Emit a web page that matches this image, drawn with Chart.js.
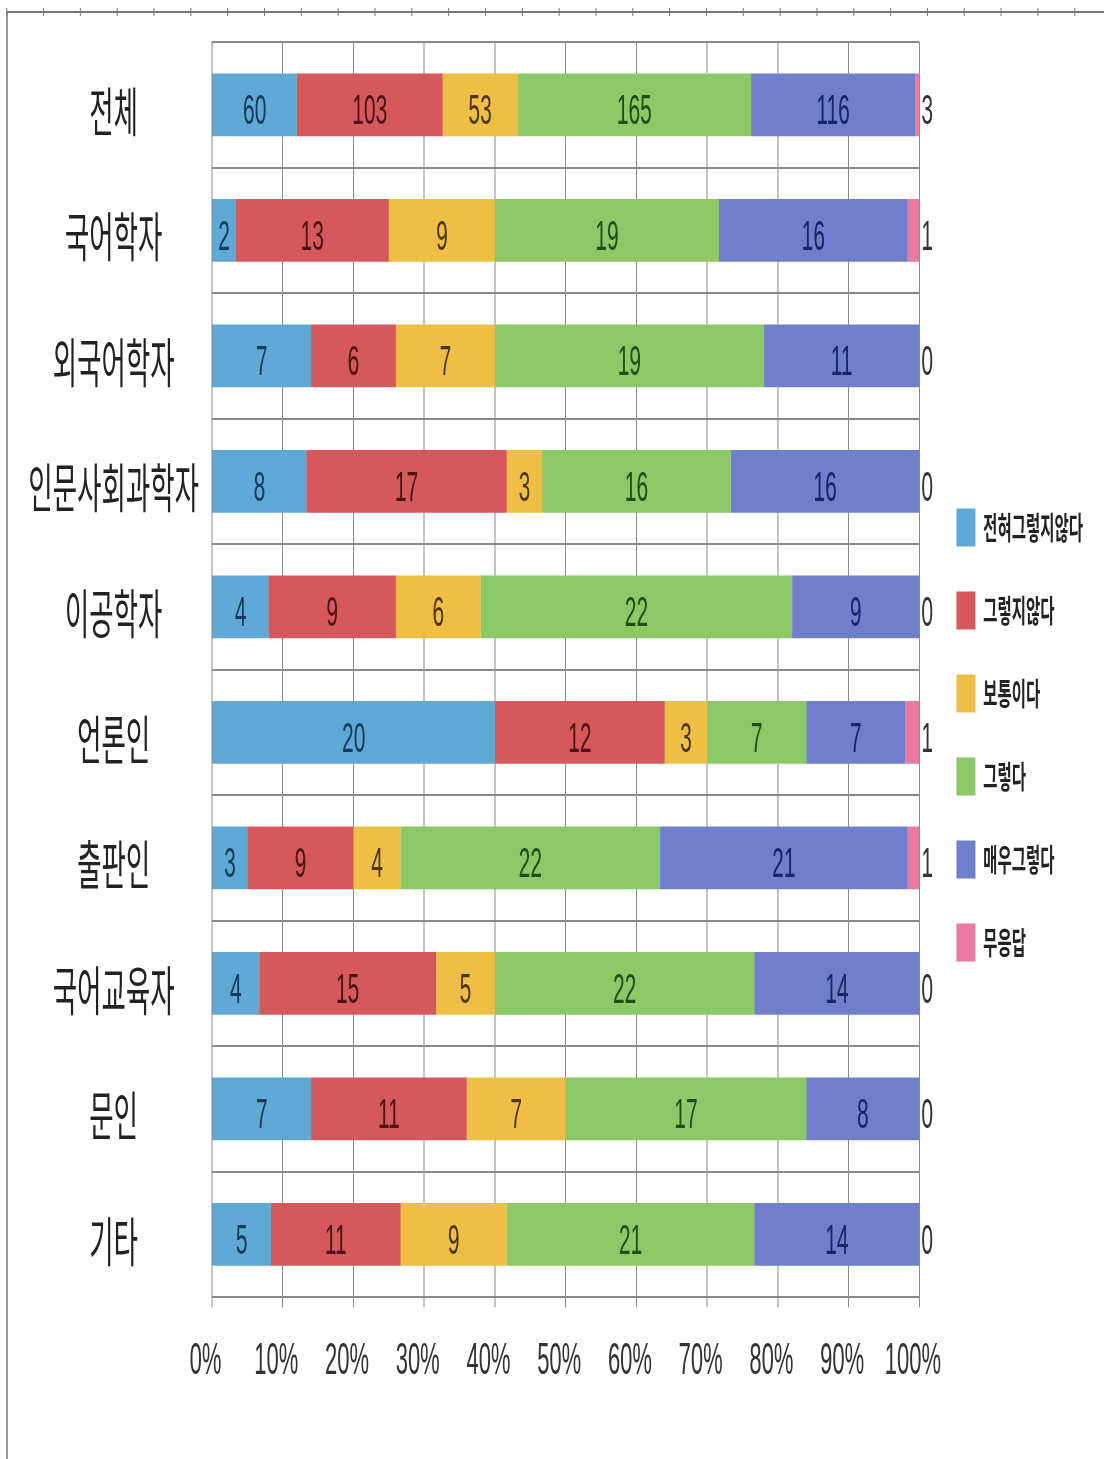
<!DOCTYPE html>
<html><head><meta charset="utf-8">
<script src="https://cdn.jsdelivr.net/npm/chart.js@4/dist/chart.umd.min.js"></script>
<style>
html,body{margin:0;padding:0;background:#fff;overflow:hidden;}
#wrap{width:2208px;height:1459px;transform:scaleX(0.5);transform-origin:0 0;}
canvas{display:block;}
</style></head><body>
<div id="wrap"><canvas id="c" width="2208" height="1459"></canvas></div>
<script>
const categories = ['전체','국어학자','외국어학자','인문사회과학자','이공학자','언론인','출판인','국어교육자','문인','기타'];
const seriesNames = ['전혀그렇지않다','그렇지않다','보통이다','그렇다','매우그렇다','무응답'];
const notAtAll      = [60, 2, 7, 8, 4, 20, 3, 4, 7, 5];
const disagree      = [103, 13, 6, 17, 9, 12, 9, 15, 11, 11];
const neutral       = [53, 9, 7, 3, 6, 3, 4, 5, 7, 9];
const agree         = [165, 19, 19, 16, 22, 7, 22, 22, 17, 21];
const stronglyAgree = [116, 16, 11, 16, 9, 7, 21, 14, 8, 14];
const noAnswer      = [3, 1, 0, 0, 0, 1, 1, 0, 0, 0];
const xTickValues   = [0, 10, 20, 30, 40, 50, 60, 70, 80, 90, 100];

const counts = [notAtAll, disagree, neutral, agree, stronglyAgree, noAnswer];
const colors = ['#5ea9d6', '#d5595c', '#efbf45', '#8cc865', '#6f7fcc', '#e97aa3'];
const labelColors = ['#163a5c', '#4d1414', '#4a3510', '#1e4f1a', '#1b2466', '#333333'];

const totals = categories.map((_, j) => counts.reduce((s, arr) => s + arr[j], 0));
const datasets = counts.map((arr, i) => ({
  label: seriesNames[i],
  data: arr.map((v, j) => v / totals[j] * 100),
  backgroundColor: colors[i],
  borderWidth: 0,
  barPercentage: 0.5,
  categoryPercentage: 1.0
}));

const decoPlugin = {
  id: 'deco',
  beforeDraw(chart) {
    const ctx = chart.ctx;
    ctx.save();
    ctx.fillStyle = '#ffffff';
    ctx.fillRect(0, 0, chart.width, chart.height);
    ctx.strokeStyle = '#9a9a9a';
    ctx.lineWidth = 4;
    ctx.beginPath(); ctx.moveTo(14, 12); ctx.lineTo(14, chart.height); ctx.stroke();
    ctx.strokeStyle = '#777777';
    ctx.lineWidth = 2;
    ctx.beginPath(); ctx.moveTo(14, 12); ctx.lineTo(chart.width, 12); ctx.stroke();
    for (let k = 0; k < 30; k++) {
      const x = (6.7 + 36.83 * k) * 2;
      ctx.beginPath(); ctx.moveTo(x, 8); ctx.lineTo(x, 16); ctx.stroke();
    }
    ctx.restore();
  }
};

const valueLabels = {
  id: 'valueLabels',
  afterDatasetsDraw(chart) {
    const ctx = chart.ctx;
    ctx.save();
    ctx.font = '42px "Liberation Sans", Arial, sans-serif';
    ctx.textBaseline = 'middle';
    chart.data.datasets.forEach((ds, i) => {
      const meta = chart.getDatasetMeta(i);
      meta.data.forEach((el, j) => {
        const v = counts[i][j];
        let x;
        if (i === counts.length - 1) {
          ctx.textAlign = 'left';
          x = chart.chartArea.right + 4;
        } else {
          ctx.textAlign = 'center';
          x = (el.base + el.x) / 2;
        }
        ctx.fillStyle = labelColors[i];
        ctx.fillText(String(v), x, el.y + 8);
      });
    });
    ctx.restore();
  }
};

new Chart(document.getElementById('c'), {
  type: 'bar',
  data: { labels: categories, datasets },
  options: {
    indexAxis: 'y',
    responsive: false,
    animation: false,
    devicePixelRatio: 1,
    layout: { padding: { top: 42, bottom: 43, left: 0, right: 32 } },
    scales: {
      x: {
        type: 'linear', stacked: true, min: 0, max: 100,
        afterBuildTicks(s) { s.ticks = xTickValues.map(v => ({ value: v })); },
        ticks: {
          callback: v => v + '%',
          font: { family: '"Liberation Sans", Arial, sans-serif', size: 44 },
          color: '#333', padding: 28, maxRotation: 0, autoSkip: false, labelOffset: -13
        },
        grid: { color: '#8a8a8a', lineWidth: 2, tickLength: 10 },
        border: { color: '#8a8a8a', width: 2 }
      },
      y: {
        type: 'category', stacked: true,
        grid: { color: '#8a8a8a', lineWidth: 2, drawTicks: false, offset: true },
        border: { color: '#8a8a8a', width: 2 },
        ticks: {
          font: { family: '"Noto Sans CJK KR", sans-serif', size: 53, lineHeight: 0.5 },
          color: '#222', crossAlign: 'center', padding: 26, labelOffset: 7
        },
        afterFit(s) { s.width = 424; }
      },
      y2: {
        type: 'category', position: 'right', display: true,
        grid: { display: false }, border: { display: false },
        ticks: { display: false },
        afterFit(s) { s.width = 29; }
      }
    },
    plugins: {
      legend: {
        position: 'right', align: 'center',
        title: { display: true, text: ' ', padding: 0, font: { size: 10 } },
        labels: {
          boxWidth: 38, boxHeight: 38, padding: 45, color: '#222',
          font: { family: '"Noto Sans CJK KR", sans-serif', size: 31, weight: 'bold' }
        }
      },
      tooltip: { enabled: false }
    }
  },
  plugins: [decoPlugin, valueLabels]
});
</script>
</body></html>
